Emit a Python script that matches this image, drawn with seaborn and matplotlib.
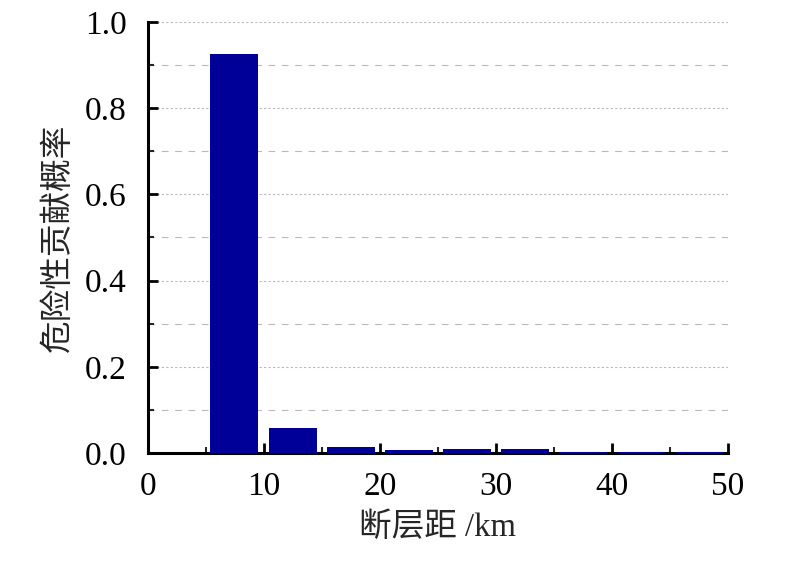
import numpy as np
import pandas as pd
import seaborn as sns
import matplotlib.pyplot as plt
from matplotlib.ticker import MultipleLocator

# bin centres of fault distance (km) and contribution probability
distance = [7.4, 12.5, 17.5, 22.5, 27.5, 32.5, 37.5, 42.5, 47.5]
probability = [0.926, 0.058, 0.014, 0.007, 0.009, 0.009, 0.003, 0.003, 0.003]

df = pd.DataFrame({"distance": distance, "probability": probability})

sns.set_style("white")
plt.rcParams['font.family'] = ['Liberation Serif', 'Noto Sans CJK SC']
plt.rcParams['axes.unicode_minus'] = False

fig = plt.figure(figsize=(7.86, 5.62), dpi=100)
ax = fig.add_axes([0.188, 0.194, 0.738, 0.767])

sns.barplot(data=df, x="distance", y="probability", native_scale=True,
            width=0.83, color="#000099", saturation=1, linewidth=0,
            edgecolor="none", ax=ax, zorder=3)

ax.set_xlim(0, 50)
ax.set_ylim(0, 1.0)
ax.xaxis.set_major_locator(MultipleLocator(10))
ax.xaxis.set_minor_locator(MultipleLocator(5))
ax.yaxis.set_major_locator(MultipleLocator(0.2))
ax.yaxis.set_minor_locator(MultipleLocator(0.1))
ax.xaxis.set_major_formatter(plt.FuncFormatter(lambda v, p: f"{v:.0f}"))
ax.yaxis.set_major_formatter(plt.FuncFormatter(lambda v, p: f"{v:.1f}"))

ax.grid(False)
ax.yaxis.grid(True, which="major", color="#b8b8b8", linestyle=(0, (2, 2)), linewidth=0.8, zorder=0)
ax.yaxis.grid(True, which="minor", color="#b8b8b8", linestyle=(0, (6, 6)), linewidth=0.8, zorder=0)
ax.set_axisbelow(True)

for side in ["top", "right"]:
    ax.spines[side].set_visible(False)
for side in ["left", "bottom"]:
    ax.spines[side].set_linewidth(2.2)
    ax.spines[side].set_color("black")

ax.tick_params(which="major", direction="in", length=7, width=2, labelsize=24, colors="black")
ax.tick_params(which="minor", direction="in", length=4, width=1.5)
ax.tick_params(axis="x", which="both", bottom=True, pad=13)
ax.tick_params(axis="y", which="both", left=True, pad=15)

ax.set_xlabel("断层距 /km", fontsize=23.5, labelpad=8)
ax.set_ylabel("危险性贡献概率", fontsize=23.5, labelpad=8)

fig.savefig("out.png", dpi=100)
